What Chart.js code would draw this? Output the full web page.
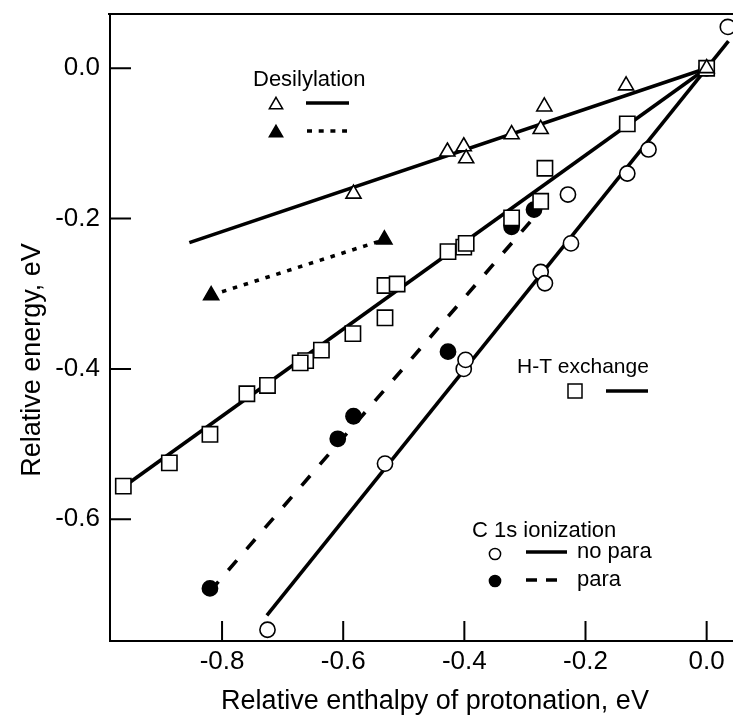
<!DOCTYPE html>
<html><head><meta charset="utf-8">
<script src="https://cdn.jsdelivr.net/npm/chart.js@4"></script>
<style>html,body{margin:0;padding:0;background:#fff;}canvas{display:block;}</style>
</head><body>
<canvas id="c" width="733" height="722"></canvas>
<script>
// ---- data ----
const xTicks = [-0.8, -0.6, -0.4, -0.2, 0.0];
const xTickLabels = ["-0.8", "-0.6", "-0.4", "-0.2", "0.0"];
const yTicks = [0.0, -0.2, -0.4, -0.6];
const yTickLabels = ["0.0", "-0.2", "-0.4", "-0.6"];

const desilOpen = [[-0.583,-0.167],[-0.428,-0.111],[-0.401,-0.104],[-0.397,-0.120],[-0.322,-0.088],[-0.274,-0.081],[-0.268,-0.051],[-0.133,-0.023],[0.0,0.0]];
const desilFilled = [[-0.818,-0.302],[-0.532,-0.228]];
const htSquares = [[-0.963,-0.556],[-0.887,-0.525],[-0.820,-0.487],[-0.759,-0.433],[-0.725,-0.422],[-0.662,-0.389],[-0.671,-0.392],[-0.636,-0.375],[-0.584,-0.353],[-0.531,-0.332],[-0.531,-0.289],[-0.511,-0.287],[-0.427,-0.244],[-0.401,-0.238],[-0.397,-0.233],[-0.322,-0.199],[-0.274,-0.177],[-0.267,-0.133],[-0.131,-0.074],[0.0,0.0]];
const c1sNoPara = [[-0.725,-0.747],[-0.531,-0.526],[-0.401,-0.400],[-0.398,-0.388],[-0.274,-0.271],[-0.267,-0.286],[-0.229,-0.168],[-0.224,-0.233],[-0.131,-0.140],[-0.096,-0.108],[0.0,0.0],[0.035,0.055]];
const c1sPara = [[-0.820,-0.692],[-0.609,-0.493],[-0.583,-0.463],[-0.427,-0.377],[-0.322,-0.211],[-0.285,-0.188]];

const desilFit = [[-0.854,-0.232],[0.0,0.0]];
const desilFilledFit = [[-0.818,-0.302],[-0.532,-0.228]];
const htFit = [[-0.963,-0.557],[0.0,0.0]];
const noParaFit = [[-0.726,-0.728],[0.036,0.036]];
const paraFit = [[-0.820,-0.696],[-0.290,-0.203]];

const FONT = '"Liberation Sans", Arial, Helvetica, sans-serif';
const pts = a => a.map(([x, y]) => ({x, y}));

function markers(data, style, r, fill) {
  return {data: pts(data), pointStyle: style, pointRadius: r, pointHoverRadius: r,
    backgroundColor: fill, borderColor: '#000', pointBorderWidth: 1.6, borderWidth: 1.6,
    showLine: false, order: 1};
}
function fitLine(data, dash, cap) {
  return {data: pts(data), showLine: true, borderColor: '#000', borderWidth: 3.6,
    borderDash: dash, borderCapStyle: cap || 'butt', pointRadius: 0, pointHoverRadius: 0,
    fill: false, order: 10};
}

function tri(ctx, x, y, r, filled) {
  ctx.beginPath();
  ctx.moveTo(x, y - r);
  ctx.lineTo(x + r * 0.866, y + r / 2);
  ctx.lineTo(x - r * 0.866, y + r / 2);
  ctx.closePath();
  ctx.fillStyle = filled ? '#000' : '#fff';
  ctx.fill();
  ctx.lineWidth = 1.5; ctx.strokeStyle = '#000'; ctx.stroke();
}
function circ(ctx, x, y, r, filled) {
  ctx.beginPath(); ctx.arc(x, y, r, 0, Math.PI * 2);
  ctx.fillStyle = filled ? '#000' : '#fff'; ctx.fill();
  ctx.lineWidth = 1.5; ctx.strokeStyle = '#000'; ctx.stroke();
}
function sq(ctx, x, y, h) {
  ctx.fillStyle = '#fff'; ctx.fillRect(x - h, y - h, 2 * h, 2 * h);
  ctx.lineWidth = 1.5; ctx.strokeStyle = '#000'; ctx.strokeRect(x - h, y - h, 2 * h, 2 * h);
}
function seg(ctx, x1, x2, y, dash) {
  ctx.beginPath(); ctx.setLineDash(dash || []); ctx.lineWidth = 3.6; ctx.strokeStyle = '#000';
  ctx.moveTo(x1, y); ctx.lineTo(x2, y); ctx.stroke(); ctx.setLineDash([]);
}
function noPad(s) { s.paddingLeft = 0; s.paddingRight = 0; s.paddingTop = 0; s.paddingBottom = 0; }

const decor = {
  id: 'decor',
  afterDraw(chart) {
    const ctx = chart.ctx, a = chart.chartArea;
    const xs = chart.scales.x, ys = chart.scales.y;
    ctx.save();
    // frame top line
    ctx.strokeStyle = '#000'; ctx.lineWidth = 2;
    ctx.beginPath(); ctx.moveTo(a.left - 2, a.top); ctx.lineTo(a.right, a.top); ctx.stroke();
    // inward ticks
    ctx.beginPath();
    xTicks.forEach(v => { const p = xs.getPixelForValue(v); ctx.moveTo(p, a.bottom); ctx.lineTo(p, a.bottom - 20); });
    yTicks.forEach(v => { const p = ys.getPixelForValue(v); ctx.moveTo(a.left, p); ctx.lineTo(a.left + 21, p); });
    ctx.stroke();
    // axis titles
    ctx.fillStyle = '#000';
    ctx.font = '27px ' + FONT;
    ctx.textAlign = 'center'; ctx.textBaseline = 'alphabetic';
    ctx.fillText('Relative enthalpy of protonation, eV', 435, 709);
    ctx.save(); ctx.translate(40, 360); ctx.rotate(-Math.PI / 2);
    ctx.fillText('Relative energy, eV', 0, 0); ctx.restore();
    // legends
    ctx.font = '22px ' + FONT; ctx.textAlign = 'left'; ctx.textBaseline = 'alphabetic';
    ctx.fillText('Desilylation', 253, 86);
    tri(ctx, 276, 105, 7.7, false); seg(ctx, 306, 349, 103);
    tri(ctx, 276, 133, 7.7, true); seg(ctx, 307, 347, 131, [5, 6.7]);

    ctx.fillStyle = '#000';
    ctx.font = '21px ' + FONT;
    ctx.fillText('H-T exchange', 517, 373);
    sq(ctx, 575, 391, 7); seg(ctx, 606, 648, 391);

    ctx.fillStyle = '#000';
    ctx.font = '22px ' + FONT;
    ctx.fillText('C 1s ionization', 472, 537);
    circ(ctx, 495, 554, 5.6, false); seg(ctx, 526, 567, 552);
    ctx.fillStyle = '#000';
    ctx.fillText('no para', 577, 558);
    circ(ctx, 495, 581, 5.6, true); seg(ctx, 526, 557, 580, [11, 9]);
    ctx.fillStyle = '#000';
    ctx.fillText('para', 577, 586);
    ctx.restore();
  }
};

new Chart(document.getElementById('c'), {
  type: 'scatter',
  data: {datasets: [
    markers(desilOpen, 'triangle', 8.7, '#fff'),
    markers(desilFilled, 'triangle', 8.7, '#000'),
    markers(htSquares, 'rect', 10.8, '#fff'),
    markers(c1sNoPara, 'circle', 7.6, '#fff'),
    markers(c1sPara, 'circle', 7.6, '#000'),
    fitLine(desilFit, []),
    fitLine(desilFilledFit, [4.5, 6.9]),
    fitLine(htFit, []),
    fitLine(noParaFit, []),
    fitLine(paraFit, [13, 15])
  ]},
  options: {
    responsive: false, animation: false, devicePixelRatio: 1,
    layout: {autoPadding: false, padding: {top: 14, left: 0, right: 0, bottom: 0}},
    plugins: {legend: {display: false}, tooltip: {enabled: false}},
    scales: {
      x: {type: 'linear', min: -0.985, max: 0.0435,
        afterBuildTicks: s => { s.ticks = xTicks.map(v => ({value: v})); },
        afterFit: s => { s.height = 81; noPad(s); },
        grid: {display: false, drawTicks: false},
        border: {display: true, color: '#000', width: 2},
        ticks: {color: '#000', font: {family: FONT, size: 26}, padding: 5, maxRotation: 0, autoSkip: false,
          callback: (v, i) => xTickLabels[i]}},
      y: {type: 'linear', min: -0.762, max: 0.0722,
        afterBuildTicks: s => { s.ticks = yTicks.map(v => ({value: v})); },
        afterFit: s => { s.width = 110; noPad(s); },
        grid: {display: false, drawTicks: false},
        border: {display: true, color: '#000', width: 2},
        ticks: {color: '#000', font: {family: FONT, size: 26}, padding: 10, autoSkip: false,
          callback: (v, i) => yTickLabels[i]}}
    }
  },
  plugins: [decor]
});
</script>
</body></html>
